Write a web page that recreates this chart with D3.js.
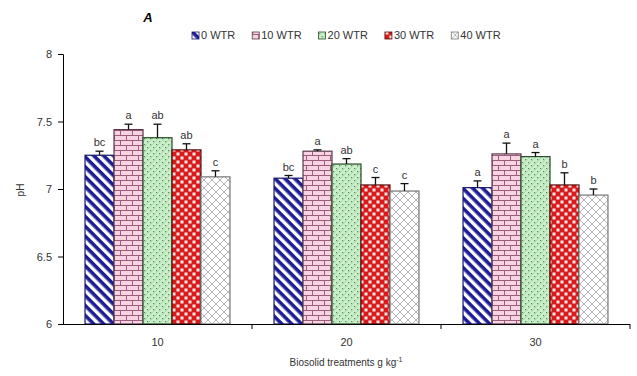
<!DOCTYPE html>
<html>
<head>
<meta charset="utf-8">
<script src="https://cdn.jsdelivr.net/npm/d3@7"></script>
<style>
  body { margin: 0; background: #fff; }
  svg { display: block; font-family: "Liberation Sans", Arial, sans-serif; }
</style>
</head>
<body>
<div id="chart"></div>
<script>
// data
const groups = ['10', '20', '30'];
const series = ['0 WTR', '10 WTR', '20 WTR', '30 WTR', '40 WTR'];
const phValues = [
    [7.25, 7.44, 7.38, 7.29, 7.09],
    [7.08, 7.28, 7.185, 7.03, 6.985],
    [7.01, 7.26, 7.24, 7.03, 6.955]
];
const phErrors = [
    [0.03, 0.04, 0.10, 0.045, 0.045],
    [0.02, 0.01, 0.04, 0.055, 0.055],
    [0.05, 0.08, 0.03, 0.09, 0.045]
];
const letters = [
    ['bc', 'a', 'ab', 'ab', 'c'],
    ['bc', 'a', 'ab', 'c', 'c'],
    ['a', 'a', 'a', 'b', 'b']
];
const yTicks = [6, 6.5, 7, 7.5, 8];

const width = 637, height = 376;
const margin = { top: 54, right: 7, bottom: 52, left: 63 };

const svg = d3.select('#chart').append('svg')
    .attr('width', width)
    .attr('height', height);

// fill patterns
const defs = svg.append('defs');

const pStripe = defs.append('pattern').attr('id', 'p0')
    .attr('patternUnits', 'userSpaceOnUse').attr('width', 7).attr('height', 7)
    .attr('patternTransform', 'rotate(45)');
pStripe.append('rect').attr('width', 7).attr('height', 7).attr('fill', '#fff');
pStripe.append('rect').attr('width', 7).attr('height', 3.6).attr('fill', '#1d1d96');

const pBrick = defs.append('pattern').attr('id', 'p1')
    .attr('patternUnits', 'userSpaceOnUse').attr('width', 12).attr('height', 10);
pBrick.append('rect').attr('width', 12).attr('height', 10).attr('fill', '#f8d3e2');
pBrick.append('path')
    .attr('d', 'M0,0.5H12M0,5.5H12M0.5,0V5M6.5,5V10')
    .attr('stroke', '#9c5c7c').attr('stroke-width', 1).attr('fill', 'none');

const pDots = defs.append('pattern').attr('id', 'p2')
    .attr('patternUnits', 'userSpaceOnUse').attr('width', 6).attr('height', 6);
pDots.append('rect').attr('width', 6).attr('height', 6).attr('fill', '#c9eec9');
pDots.append('path')
    .attr('d', 'M0,3L3,0M3,6L6,3')
    .attr('stroke', '#a8d6a8').attr('stroke-width', 0.8);
pDots.append('rect').attr('x', 0).attr('y', 0).attr('width', 1.2).attr('height', 1.2).attr('fill', '#4f8f4f');
pDots.append('rect').attr('x', 3).attr('y', 3).attr('width', 1.2).attr('height', 1.2).attr('fill', '#4f8f4f');

const pCheck = defs.append('pattern').attr('id', 'p3')
    .attr('patternUnits', 'userSpaceOnUse').attr('width', 8).attr('height', 8);
pCheck.append('rect').attr('width', 8).attr('height', 8).attr('fill', '#d91a1a');
pCheck.append('rect').attr('x', 0.5).attr('y', 0.5).attr('width', 3).attr('height', 3).attr('fill', '#fbe9e9');
pCheck.append('rect').attr('x', 4.5).attr('y', 4.5).attr('width', 3).attr('height', 3).attr('fill', '#fbe9e9');

const pCross = defs.append('pattern').attr('id', 'p4')
    .attr('patternUnits', 'userSpaceOnUse').attr('width', 8).attr('height', 8);
pCross.append('rect').attr('width', 8).attr('height', 8).attr('fill', '#fff');
pCross.append('path')
    .attr('d', 'M0,0L8,8M8,0L0,8')
    .attr('stroke', '#a3a3a3').attr('stroke-width', 0.8);

const fills = ['url(#p0)', 'url(#p1)', 'url(#p2)', 'url(#p3)', 'url(#p4)'];
const strokes = ['#15156e', '#5a3a4a', '#2b4a2b', '#5a1010', '#777'];

// scales
const x0 = d3.scaleBand()
    .domain(groups)
    .range([margin.left, width - margin.right]);

const x1 = d3.scaleBand()
    .domain(series)
    .range([0, x0.bandwidth()])
    .paddingInner(0)
    .paddingOuter(0.76);

const y = d3.scaleLinear()
    .domain([6, 8])
    .range([height - margin.bottom, margin.top]);

// bars
const rows = [];
groups.forEach((g, gi) => {
    series.forEach((s, si) => {
        rows.push({ g, s, si, v: phValues[gi][si], e: phErrors[gi][si], l: letters[gi][si] });
    });
});

const barG = svg.append('g');
barG.selectAll('rect')
    .data(rows)
    .join('rect')
    .attr('x', d => x0(d.g) + x1(d.s))
    .attr('y', d => y(d.v))
    .attr('width', x1.bandwidth())
    .attr('height', d => y(6) - y(d.v))
    .attr('fill', d => fills[d.si])
    .attr('stroke', d => strokes[d.si])
    .attr('stroke-width', 1.2);

// error bars (upper only)
const errG = svg.append('g').attr('stroke', '#111').attr('stroke-width', 1.3);
errG.selectAll('line.v')
    .data(rows)
    .join('line')
    .attr('class', 'v')
    .attr('x1', d => x0(d.g) + x1(d.s) + x1.bandwidth() / 2)
    .attr('x2', d => x0(d.g) + x1(d.s) + x1.bandwidth() / 2)
    .attr('y1', d => y(d.v))
    .attr('y2', d => y(d.v + d.e));
errG.selectAll('line.c')
    .data(rows)
    .join('line')
    .attr('class', 'c')
    .attr('x1', d => x0(d.g) + x1(d.s) + x1.bandwidth() / 2 - 4)
    .attr('x2', d => x0(d.g) + x1(d.s) + x1.bandwidth() / 2 + 4)
    .attr('y1', d => y(d.v + d.e))
    .attr('y2', d => y(d.v + d.e));

// significance letters
svg.append('g').selectAll('text')
    .data(rows)
    .join('text')
    .attr('x', d => x0(d.g) + x1(d.s) + x1.bandwidth() / 2)
    .attr('y', d => y(d.v + d.e) - 5)
    .attr('text-anchor', 'middle')
    .attr('font-size', 11)
    .attr('fill', '#333')
    .text(d => d.l);

// axes
const yAxis = d3.axisLeft(y).tickValues(yTicks).tickSize(5).tickFormat(d3.format('~g'));
const yAxisG = svg.append('g')
    .attr('transform', `translate(${margin.left},0)`)
    .call(yAxis);
yAxisG.selectAll('text').attr('font-size', 11).attr('fill', '#333').attr('dx', -3);

const xAxis = d3.axisBottom(x0).tickSize(0).tickPadding(14);
const xAxisG = svg.append('g')
    .attr('transform', `translate(0,${y(6)})`)
    .call(xAxis);
xAxisG.select('.domain').attr('d', `M${margin.left},0.5H${width - margin.right}`);
xAxisG.selectAll('text').attr('font-size', 11).attr('fill', '#333');

// tick marks at group boundaries
xAxisG.append('g').selectAll('line')
    .data(groups)
    .join('line')
    .attr('x1', d => x0(d) + x0.bandwidth())
    .attr('x2', d => x0(d) + x0.bandwidth())
    .attr('y1', 0)
    .attr('y2', 5)
    .attr('stroke', '#000');

// axis titles
const xTitle = svg.append('text')
    .attr('x', 346)
    .attr('y', 366)
    .attr('text-anchor', 'middle')
    .attr('font-size', 10)
    .attr('fill', '#333');
xTitle.append('tspan').text('Biosolid treatments g kg');
xTitle.append('tspan').attr('dy', -4).attr('font-size', 7).text('-1');

svg.append('text')
    .attr('transform', 'translate(24,190) rotate(-90)')
    .attr('text-anchor', 'middle')
    .attr('font-size', 10)
    .attr('fill', '#333')
    .text('pH');

// panel label
svg.append('text')
    .attr('x', 148)
    .attr('y', 22)
    .attr('text-anchor', 'middle')
    .attr('font-size', 13)
    .attr('font-weight', 'bold')
    .attr('font-style', 'italic')
    .text('A');

// legend
const legend = svg.append('g').attr('transform', 'translate(192,39)');
let lx = 0;
series.forEach((s, i) => {
    const item = legend.append('g').attr('transform', `translate(${lx},0)`);
    item.append('rect')
        .attr('x', 0).attr('y', -7)
        .attr('width', 7).attr('height', 7)
        .attr('fill', fills[i])
        .attr('stroke', strokes[i])
        .attr('stroke-width', 0.8);
    const t = item.append('text')
        .attr('x', 9).attr('y', 0)
        .attr('font-size', 11)
        .attr('fill', '#333')
        .text(s);
    lx += 9 + t.node().getComputedTextLength() + 17;
});
</script>
</body>
</html>
